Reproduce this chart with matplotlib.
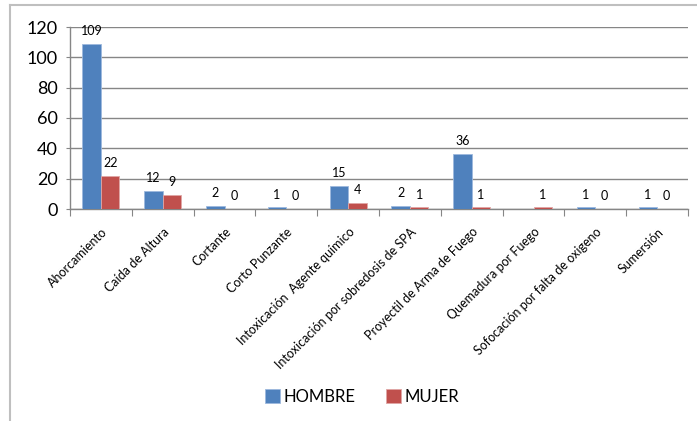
import matplotlib
matplotlib.use("Agg")
import matplotlib.pyplot as plt
from matplotlib.lines import Line2D
import numpy as np

categorias = ["Ahorcamiento", "Caída de Altura", "Cortante", "Corto Punzante",
              "Intoxicación  Agente químico", "Intoxicación por sobredosis de SPA",
              "Proyectil de Arma de Fuego", "Quemadura por Fuego",
              "Sofocación por falta de oxigeno", "Sumersión"]
hombre = [109, 12, 2, 1, 15, 2, 36, np.nan, 1, 1]
mujer = [22, 9, 0, 0, 4, 1, 1, 1, 0, 0]

plt.rcParams["font.family"] = ["Lato", "DejaVu Sans"]

W, H = 697, 421
fig = plt.figure(figsize=(W / 100, H / 100), dpi=100)
ax = fig.add_axes([70 / W, 1 - 209 / H, (688 - 70) / W, (209 - 27) / H])

x = np.arange(len(categorias))
w = 0.3
b1 = ax.bar(x - w / 2, hombre, w, color="#4F81BD", edgecolor="#9DB9DE", linewidth=0.6,
            label="HOMBRE", zorder=3)
b2 = ax.bar(x + w / 2, mujer, w, color="#C0504D", edgecolor="#DFA6A5", linewidth=0.6,
            label="MUJER", zorder=3)

for bars, vals in ((b1, hombre), (b2, mujer)):
    for bar, v in zip(bars, vals):
        if np.isnan(v):
            continue
        ax.annotate(f"{int(v)}", (bar.get_x() + bar.get_width() / 2, v),
                    xytext=(0, 5), textcoords="offset points",
                    ha="center", va="bottom", fontsize=9, color="#000000")

ax.set_xlim(-0.5, len(categorias) - 0.5)
ax.set_ylim(0, 120)
ax.set_yticks(range(0, 121, 20))
ax.tick_params(axis="y", labelsize=13, length=3, color="#868686", pad=6)
ax.yaxis.grid(True, color="#868686", linewidth=1, zorder=0)
ax.set_axisbelow(True)

ax.set_xticks(np.arange(len(categorias) + 1) - 0.5, minor=False)
ax.set_xticklabels([])
ax.tick_params(axis="x", length=5, color="#868686", direction="out")
ax.set_xticks(x, minor=True)
ax.set_xticklabels(categorias, minor=True, rotation=45, ha="right",
                   rotation_mode="anchor", fontsize=9)
ax.tick_params(axis="x", which="minor", length=0, pad=12)

for s in ("top", "right"):
    ax.spines[s].set_visible(False)
for s in ("left", "bottom"):
    ax.spines[s].set_color("#868686")
    ax.spines[s].set_linewidth(1)

# marco exterior del grafico
fig.add_artist(Line2D([10 / W, 10 / W], [0, 1 - 5 / H], color="#BFBFBF", linewidth=1.5,
                      transform=fig.transFigure))
fig.add_artist(Line2D([10 / W, 1], [1 - 5 / H, 1 - 5 / H], color="#BFBFBF", linewidth=1.5,
                      transform=fig.transFigure))

fig.legend(handles=[b1, b2], labels=["HOMBRE", "MUJER"], loc="center",
           bbox_to_anchor=(362 / W, 1 - 397 / H), ncol=2, frameon=False,
           fontsize=12, handlelength=0.9, handleheight=0.9, handletextpad=0.2,
           columnspacing=1.8)

fig.savefig("out.png", dpi=100)
